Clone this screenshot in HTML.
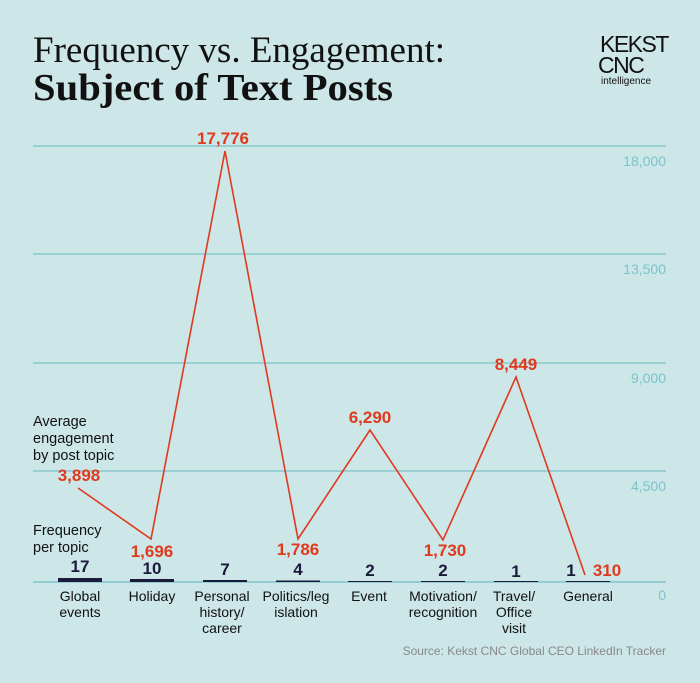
<!DOCTYPE html>
<html><head><style>
body{margin:0;width:700px;height:683px;background:#cde6e8;overflow:hidden;}
</style></head><body>
<svg width="700" height="683" xmlns="http://www.w3.org/2000/svg" style="position:absolute;left:0;top:0">
<rect width="700" height="683" fill="#cde6e8"/>
<text x="33" y="62" font-family="Liberation Serif, serif" font-size="37" fill="#111">Frequency vs. Engagement:</text>
<text x="33" y="100" font-family="Liberation Serif, serif" font-size="38" font-weight="bold" fill="#111" textLength="360" lengthAdjust="spacingAndGlyphs">Subject of Text Posts</text>
<g font-family="Liberation Sans, sans-serif" fill="#111">
<text x="600" y="52" font-size="23" letter-spacing="-1.5">KEKST</text>
<text x="598" y="73" font-size="23" letter-spacing="-1.5">CNC</text>
<text x="601" y="84" font-size="10">intelligence</text>
</g>
<g stroke="#7cc4c8" stroke-width="1.2">
<line x1="33" y1="146" x2="666" y2="146"/>
<line x1="33" y1="254" x2="666" y2="254"/>
<line x1="33" y1="363" x2="666" y2="363"/>
<line x1="33" y1="471" x2="666" y2="471"/>
<line x1="33" y1="582" x2="666" y2="582" stroke-width="1.5"/>
</g>
<g font-family="Liberation Sans, sans-serif" font-size="14" fill="#7cc4c8" text-anchor="end">
<text x="666" y="166">18,000</text>
<text x="666" y="274">13,500</text>
<text x="666" y="383">9,000</text>
<text x="666" y="491">4,500</text>
<text x="666" y="600">0</text>
</g>
<g fill="#1c1a3c">
<rect x="58" y="578" width="44" height="4"/>
<rect x="130" y="579" width="44" height="3"/>
<rect x="203" y="580" width="44" height="2"/>
<rect x="276" y="580.5" width="44" height="1.5"/>
<rect x="348" y="581" width="44" height="1"/>
<rect x="421" y="581" width="44" height="1"/>
<rect x="494" y="581" width="44" height="1"/>
<rect x="566" y="581" width="44" height="1"/>
</g>
<g font-family="Liberation Sans, sans-serif" font-size="17" font-weight="bold" fill="#1c1a3c" text-anchor="middle">
<text x="80" y="572">17</text><text x="152" y="574">10</text><text x="225" y="575">7</text><text x="298" y="575">4</text>
<text x="370" y="576">2</text><text x="443" y="576">2</text><text x="516" y="577">1</text><text x="571" y="576">1</text>
</g>
<polyline fill="none" stroke="#e03a1e" stroke-width="1.6" points="78,488 151,539 225,151 298,539 370,430 443,540 516,377 585,575"/>
<g font-family="Liberation Sans, sans-serif" font-size="17" font-weight="bold" fill="#e03a1e" text-anchor="middle">
<text x="79" y="481">3,898</text>
<text x="152" y="557">1,696</text>
<text x="223" y="144">17,776</text>
<text x="298" y="555">1,786</text>
<text x="370" y="423">6,290</text>
<text x="445" y="556">1,730</text>
<text x="516" y="370">8,449</text>
<text x="607" y="576">310</text>
</g>
<g font-family="Liberation Sans, sans-serif" font-size="14.5" fill="#111">
<text x="33" y="426">Average</text><text x="33" y="443">engagement</text><text x="33" y="460">by post topic</text>
<text x="33" y="535">Frequency</text><text x="33" y="552">per topic</text>
</g>
<g font-family="Liberation Sans, sans-serif" font-size="14" fill="#111" text-anchor="middle">
<text x="80" y="601">Global</text><text x="80" y="617">events</text>
<text x="152" y="601">Holiday</text>
<text x="222" y="601">Personal</text><text x="222" y="617">history/</text><text x="222" y="633">career</text>
<text x="296" y="601">Politics/leg</text><text x="296" y="617">islation</text>
<text x="369" y="601">Event</text>
<text x="443" y="601">Motivation/</text><text x="443" y="617">recognition</text>
<text x="514" y="601">Travel/</text><text x="514" y="617">Office</text><text x="514" y="633">visit</text>
<text x="588" y="601">General</text>
</g>
<text x="666" y="655" font-family="Liberation Sans, sans-serif" font-size="12" fill="#888" text-anchor="end">Source: Kekst CNC Global CEO LinkedIn Tracker</text>
</svg>
</body></html>
